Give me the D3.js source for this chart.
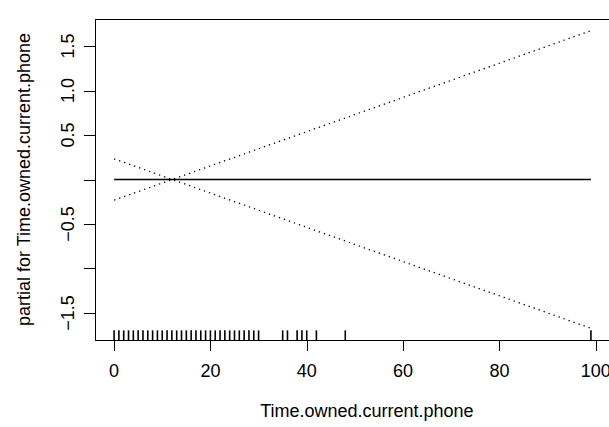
<!DOCTYPE html>
<html>
<head>
<meta charset="utf-8">
<script src="https://cdn.jsdelivr.net/npm/d3@7"></script>
<style>
  html, body { margin: 0; padding: 0; background: #fff; }
  svg { display: block; }
  text { font-family: "Liberation Sans", Arial, Helvetica, sans-serif; fill: #000; }
</style>
</head>
<body>
<svg id="chart" width="609" height="427"></svg>
<script>
// Partial effect of Time.owned.current.phone with +/- 2 SE bands
const termX = [0, 99];
const partialFit = [0, 0];
const upperBand = [-0.232, 1.672];
const lowerBand = [0.232, -1.672];

// Observed values of the covariate (rug)
const rugValues = [0, 1, 2, 3, 4, 5, 6, 7, 8, 9, 10, 11, 12, 13, 14, 15, 16, 17, 18, 19,
  20, 21, 22, 23, 24, 25, 26, 27, 28, 29, 30, 35, 36, 38, 39, 40, 42, 48, 99];

const xTicks = [0, 20, 40, 60, 80, 100];
const xTickLabels = ["0", "20", "40", "60", "80", "100"];
const yTicks = [-1.5, -1.0, -0.5, 0, 0.5, 1.0, 1.5];
const yTickLabels = ["\u22121.5", "", "\u22120.5", "", "0.5", "1.0", "1.5"];

const xTitle = "Time.owned.current.phone";
const yTitle = "partial for Time.owned.current.phone";

(function draw() {
  const svg = d3.select("#chart");
  const pl = 95, pr = 610, pt = 19, pb = 340;
  const fs = 18;

  const x = d3.scaleLinear().domain([-3.96, 102.96]).range([pl, pr]);
  const y = d3.scaleLinear().domain([-1.8034, 1.8034]).range([pb, pt]);

  // x axis: line spans first to last tick, labels below
  const gx = svg.append("g");
  gx.append("line")
    .attr("x1", x(xTicks[0])).attr("x2", x(xTicks[xTicks.length - 1]))
    .attr("y1", pb + 0.5).attr("y2", pb + 0.5)
    .attr("stroke", "#000").attr("stroke-width", 1);
  gx.selectAll("line.tick").data(xTicks).join("line")
    .attr("class", "tick")
    .attr("x1", d => Math.round(x(d)) + 0.5).attr("x2", d => Math.round(x(d)) + 0.5)
    .attr("y1", pb).attr("y2", pb + 11)
    .attr("stroke", "#000").attr("stroke-width", 1);
  gx.selectAll("text").data(xTicks).join("text")
    .attr("x", d => x(d)).attr("y", pb + 37)
    .attr("text-anchor", "middle").attr("font-size", fs)
    .text((d, i) => xTickLabels[i]);

  // y axis
  const gy = svg.append("g");
  gy.append("line")
    .attr("x1", pl + 0.5).attr("x2", pl + 0.5)
    .attr("y1", y(yTicks[0])).attr("y2", y(yTicks[yTicks.length - 1]))
    .attr("stroke", "#000").attr("stroke-width", 1);
  gy.selectAll("line.tick").data(yTicks).join("line")
    .attr("class", "tick")
    .attr("x1", pl - 11).attr("x2", pl)
    .attr("y1", d => Math.round(y(d)) + 0.5).attr("y2", d => Math.round(y(d)) + 0.5)
    .attr("stroke", "#000").attr("stroke-width", 1);
  gy.selectAll("text").data(yTicks).join("text")
    .attr("transform", d => `translate(${pl - 21},${y(d)}) rotate(-90)`)
    .attr("text-anchor", "middle").attr("font-size", fs)
    .text((d, i) => yTickLabels[i]);

  // plot frame
  svg.append("rect")
    .attr("x", pl + 0.5).attr("y", pt + 0.5)
    .attr("width", pr - pl).attr("height", pb - pt)
    .attr("fill", "none").attr("stroke", "#000").attr("stroke-width", 1);

  // titles
  svg.append("text")
    .attr("x", (x(xTicks[0]) + x(xTicks[xTicks.length - 1])) / 2 + 12)
    .attr("y", 417)
    .attr("text-anchor", "middle").attr("font-size", fs)
    .text(xTitle);
  svg.append("text")
    .attr("transform", `translate(30,${(pt + pb) / 2}) rotate(-90)`)
    .attr("text-anchor", "middle").attr("font-size", fs)
    .text(yTitle);

  // fitted term and SE bands
  const line = d3.line().x(d => x(d[0])).y(d => y(d[1]));
  const toPts = vals => termX.map((v, i) => [v, vals[i]]);

  svg.append("path").datum(toPts(partialFit))
    .attr("d", line).attr("fill", "none")
    .attr("stroke", "#000").attr("stroke-width", 1.3);
  [upperBand, lowerBand].forEach(band => {
    svg.append("path").datum(toPts(band))
      .attr("d", line).attr("fill", "none")
      .attr("stroke", "#000").attr("stroke-width", 1.3)
      .attr("stroke-dasharray", "1.3 4");
  });

  // rug
  const rugLen = 0.03 * (pb - pt);
  svg.append("g").selectAll("line").data(rugValues).join("line")
    .attr("x1", d => x(d)).attr("x2", d => x(d))
    .attr("y1", pb).attr("y2", pb - rugLen)
    .attr("stroke", "#000").attr("stroke-width", 1.6);
})();
</script>
</body>
</html>
